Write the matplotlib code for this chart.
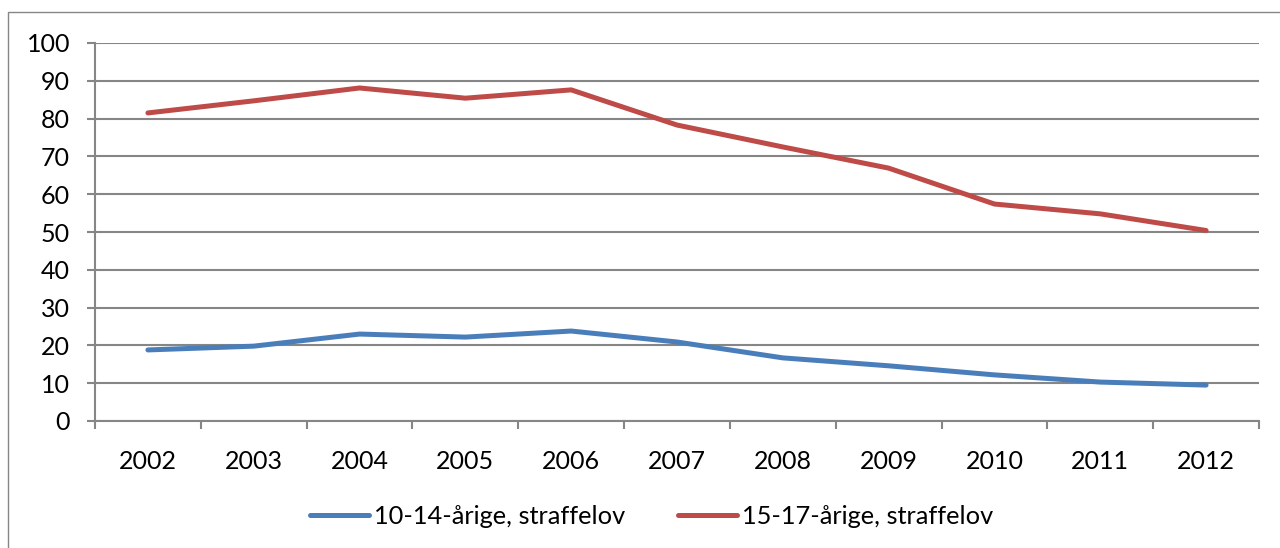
import matplotlib
matplotlib.use("Agg")
import matplotlib.pyplot as plt
from matplotlib.patches import Rectangle
from matplotlib.ticker import MultipleLocator, FixedLocator

plt.rcParams["font.family"] = ["Lato", "DejaVu Sans"]

# data
years = ["2002", "2003", "2004", "2005", "2006", "2007", "2008", "2009", "2010", "2011", "2012"]
age_10_14 = [18.8, 19.8, 23.0, 22.2, 23.8, 20.9, 16.7, 14.6, 12.2, 10.3, 9.5]
age_15_17 = [81.5, 84.7, 88.1, 85.4, 87.6, 78.3, 72.5, 66.9, 57.4, 54.8, 50.4]
labels = ["10-14-årige, straffelov", "15-17-årige, straffelov"]

grey = "#868686"
W, H = 1280, 548

fig = plt.figure(figsize=(12.8, 5.48), dpi=100)

# chart border (only left/top visible in the crop)
fig.patches.append(Rectangle((8 / W, -0.1), 1.2, 1 - 12 / H + 0.1,
                             transform=fig.transFigure, fill=False,
                             edgecolor=grey, linewidth=1.0))

ax = fig.add_axes([95 / W, 1 - 421 / H, (1259 - 95) / W, (421 - 43) / H])

x = list(range(len(years)))
ax.plot(x, age_10_14, color="#4a7ebb", linewidth=3.6, solid_capstyle="round",
        label=labels[0])
ax.plot(x, age_15_17, color="#be4b48", linewidth=3.6, solid_capstyle="round",
        label=labels[1])

ax.set_xlim(-0.5, len(years) - 0.5)
ax.set_ylim(0, 100)
ax.yaxis.set_major_locator(MultipleLocator(10))
ax.grid(axis="y", color=grey, linewidth=1.5)
ax.set_axisbelow(True)

ax.set_xticks(x)
ax.set_xticklabels(years)
ax.xaxis.set_minor_locator(FixedLocator([i - 0.5 for i in range(len(years) + 1)]))
ax.tick_params(axis="x", which="major", length=0, pad=21, labelsize=18)
ax.tick_params(axis="x", which="minor", length=6, width=1.5, color=grey)
ax.tick_params(axis="y", length=6, width=1.5, color=grey, pad=12, labelsize=18)

for s in ["top", "right"]:
    ax.spines[s].set_visible(False)
for s in ["left", "bottom"]:
    ax.spines[s].set_color(grey)
    ax.spines[s].set_linewidth(1.5)

leg = fig.legend(loc="center", bbox_to_anchor=(652 / W, 1 - 516 / H), ncol=2,
                 frameon=False, fontsize=18.3, handlelength=2.32, handletextpad=0.2,
                 columnspacing=2.08)

fig.savefig("out.png", dpi=100)
